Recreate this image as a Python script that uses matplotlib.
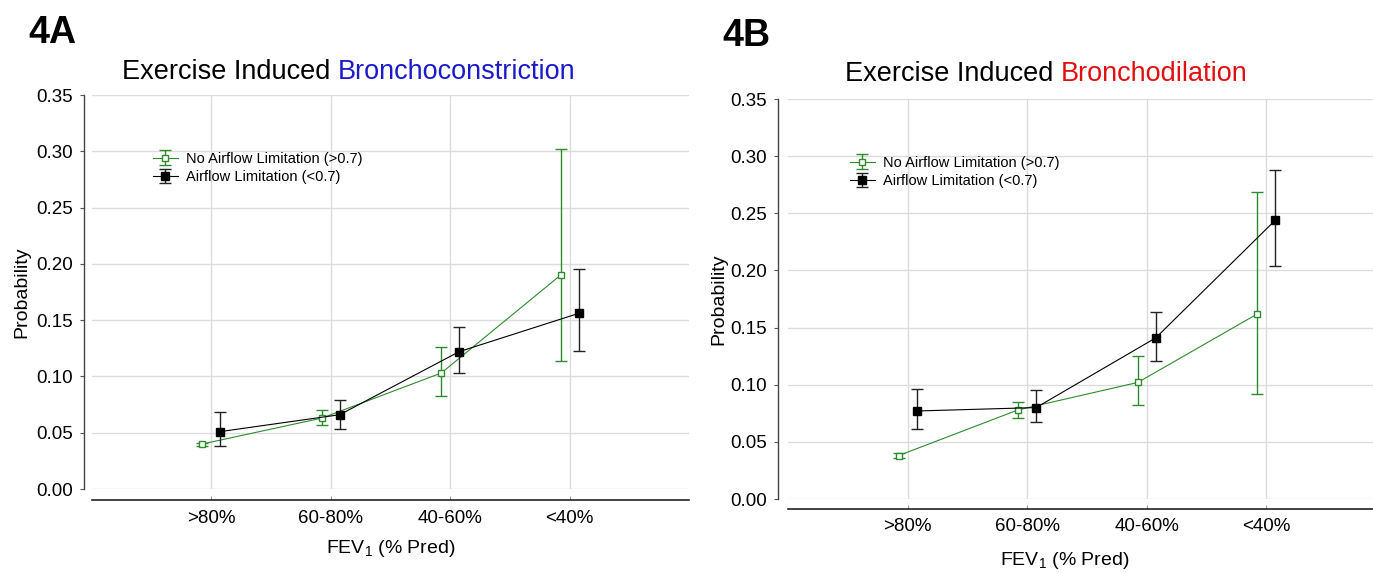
import matplotlib
matplotlib.use("Agg")
import matplotlib.pyplot as plt
import numpy as np

plt.rcParams['font.family'] = ['Liberation Sans', 'DejaVu Sans']

# FEV1 categories
categories = ['>80%', '60-80%', '40-60%', '<40%']
legend_labels = ['No Airflow Limitation (>0.7)', 'Airflow Limitation (<0.7)']

# 4A - Exercise induced bronchoconstriction
a_no_lim = [0.040, 0.063, 0.103, 0.190]
a_no_lim_lo = [0.038, 0.057, 0.083, 0.114]
a_no_lim_hi = [0.041, 0.070, 0.126, 0.302]
a_lim = [0.051, 0.066, 0.122, 0.156]
a_lim_lo = [0.038, 0.053, 0.103, 0.123]
a_lim_hi = [0.068, 0.079, 0.144, 0.195]

# 4B - Exercise induced bronchodilation
b_no_lim = [0.038, 0.078, 0.102, 0.162]
b_no_lim_lo = [0.036, 0.071, 0.082, 0.092]
b_no_lim_hi = [0.040, 0.085, 0.125, 0.269]
b_lim = [0.077, 0.080, 0.141, 0.244]
b_lim_lo = [0.061, 0.067, 0.121, 0.204]
b_lim_hi = [0.096, 0.095, 0.164, 0.288]

yticks = [0.00, 0.05, 0.10, 0.15, 0.20, 0.25, 0.30, 0.35]

GREEN = '#2f8a2f'
W, H = 1373, 573


def px_rect(x0, y0, x1, y1):
    # pixel box (top-left origin) -> figure fraction rect
    return [x0 / W, 1 - y1 / H, (x1 - x0) / W, (y1 - y0) / H]


def draw_panel(ax, no_lim, no_lo, no_hi, lim, lim_lo, lim_hi, left_out, bottom_out, leg_pos):
    x = np.arange(1, len(categories) + 1)
    no_lim = np.array(no_lim)
    lim = np.array(lim)
    ax.errorbar(x - 0.075, no_lim, yerr=[no_lim - np.array(no_lo), np.array(no_hi) - no_lim],
                color=GREEN, ecolor=GREEN, lw=0.8, elinewidth=1.0, capsize=4.5, capthick=1.0,
                marker='s', ms=5, mfc='white', mec=GREEN, mew=1.0, label=legend_labels[0], zorder=3)
    ax.errorbar(x + 0.075, lim, yerr=[lim - np.array(lim_lo), np.array(lim_hi) - lim],
                color='black', ecolor='#222222', lw=0.8, elinewidth=1.0, capsize=4.5, capthick=1.0,
                marker='s', ms=5.5, mfc='black', mec='black', label=legend_labels[1], zorder=4)

    ax.set_xlim(0, 5)
    ax.set_ylim(0, 0.35)
    ax.set_xticks(x, categories)
    ax.set_yticks(yticks, [f'{v:.2f}' for v in yticks])
    ax.grid(True, color='#dcdcdc', lw=1.0)
    ax.set_axisbelow(True)

    for s in ['top', 'right']:
        ax.spines[s].set_visible(False)
    ax.spines['left'].set_position(('outward', left_out))
    ax.spines['bottom'].set_position(('outward', bottom_out))
    ax.spines['left'].set_color('#444444')
    ax.spines['bottom'].set_color('#222222')
    ax.spines['left'].set_linewidth(1.0)
    ax.spines['bottom'].set_linewidth(1.2)
    ax.tick_params(axis='y', direction='out', length=3, color='#555555', pad=5, labelsize=13.5)
    ax.tick_params(axis='x', direction='in', length=3, color='#999999', pad=7, labelsize=13.5)

    ax.legend(loc='upper left', bbox_to_anchor=leg_pos, frameon=False, fontsize=10.5,
              handlelength=1.7, handletextpad=0.6, labelspacing=0.3, borderaxespad=0)


fig = plt.figure(figsize=(W / 100, H / 100), dpi=100)

ax1 = fig.add_axes(px_rect(92, 95, 689, 489))
draw_panel(ax1, a_no_lim, a_no_lim_lo, a_no_lim_hi, a_lim, a_lim_lo, a_lim_hi, 6, 8,
           ((147 - 92) / 597, 1 - (146 - 95) / 394))
ax1.set_ylabel('Probability', fontsize=14)
ax1.set_xlabel(r'FEV$_\mathregular{1}$ (% Pred)', fontsize=14)
ax1.xaxis.set_label_coords(0.5, -(538 - 489) / 394)
ax1.yaxis.set_label_coords(-(92 - 30) / 597, 0.5)

ax2 = fig.add_axes(px_rect(788, 99, 1386, 499))
draw_panel(ax2, b_no_lim, b_no_lim_lo, b_no_lim_hi, b_lim, b_lim_lo, b_lim_hi, 7, 7,
           ((844 - 788) / 598, 1 - (150 - 99) / 400))
ax2.set_ylabel('Probability', fontsize=14)
ax2.set_xlabel(r'FEV$_\mathregular{1}$ (% Pred)', fontsize=14)
ax2.xaxis.set_label_coords((1065 - 788) / 598, -(550 - 499) / 400)
ax2.yaxis.set_label_coords(-(788 - 727) / 598, 0.5)

# panel letters
fig.text(28 / W, 1 - 43 / H, '4A', fontsize=27, fontweight='bold', ha='left', va='baseline')
fig.text(722 / W, 1 - 46 / H, '4B', fontsize=27, fontweight='bold', ha='left', va='baseline')

# two-colour titles
t1 = fig.text(122 / W, 1 - 79 / H, 'Exercise Induced ', fontsize=19.5, ha='left', va='baseline')
ax1.annotate('Bronchoconstriction', xy=(1, 0), xycoords=t1, ha='left', va='bottom',
             fontsize=19.5, color='#1a1acc', annotation_clip=False)
t2 = fig.text(845 / W, 1 - 81 / H, 'Exercise Induced ', fontsize=19.5, ha='left', va='baseline')
ax2.annotate('Bronchodilation', xy=(1, 0), xycoords=t2, ha='left', va='bottom',
             fontsize=19.5, color='#e01010', annotation_clip=False)

fig.savefig('out.png', dpi=100)
